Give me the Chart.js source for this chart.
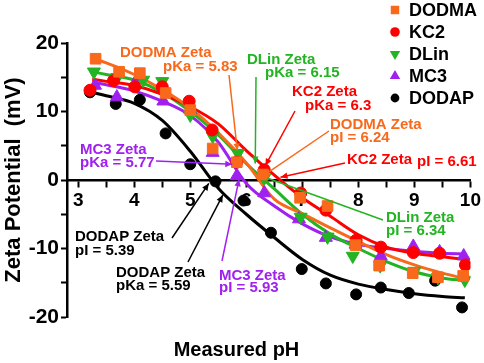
<!DOCTYPE html>
<html><head><meta charset="utf-8">
<script src="https://cdn.jsdelivr.net/npm/chart.js@4/dist/chart.umd.min.js"></script>
<style>html,body{margin:0;padding:0;background:#fff}#wrap{width:484px;height:363px}</style>
</head><body><div id="wrap"><canvas id="c" width="484" height="363"></canvas></div>
<script>
// ---- data ----
const seriesNames = ['DODMA', 'KC2', 'DLin', 'MC3', 'DODAP'];

const dodmaPH   = [3.31, 3.73, 4.10, 4.56, 5.00, 5.40, 5.83, 6.30, 6.96, 7.45, 7.95, 8.37, 8.97, 9.42, 9.87];
const dodmaZeta = [17.7, 15.8, 15.6, 12.7, 10.2, 4.6, 2.6, 0.8, -2.6, -3.8, -9.5, -12.5, -13.6, -14.2, -14.0];

const kc2PH     = [3.21, 3.63, 4.01, 4.50, 4.98, 5.39, 5.83, 6.32, 6.97, 7.42, 7.96, 8.40, 8.98, 9.45, 9.91];
const kc2Zeta   = [13.1, 14.5, 13.6, 13.6, 11.5, 7.3, 2.6, 1.5, -1.9, -4.4, -8.8, -9.8, -10.6, -10.7, -12.4];

const dlinPH    = [3.28, 3.70, 4.16, 4.50, 5.00, 5.40, 5.85, 6.32, 6.97, 7.45, 7.90, 8.39, 9.00, 9.42, 9.90];
const dlinZeta  = [15.8, 15.0, 14.6, 14.4, 9.5, 6.4, 3.9, 0.3, -5.4, -8.3, -11.1, -12.5, -13.3, -14.2, -14.6];

const mc3PH     = [3.30, 3.69, 4.07, 4.52, 5.00, 5.40, 5.83, 6.32, 6.94, 7.42, 7.95, 8.40, 8.98, 9.45, 9.88];
const mc3Zeta   = [13.8, 12.1, 15.0, 11.5, 10.3, 4.0, 0.6, -1.9, -5.7, -8.4, -9.4, -11.1, -9.7, -10.5, -11.1];

const dodapPH   = [3.21, 3.67, 4.10, 4.56, 5.00, 5.45, 5.95, 6.44, 6.99, 7.42, 7.96, 8.40, 8.90, 9.37, 9.85];
const dodapZeta = [12.8, 11.1, 11.7, 6.8, 2.3, -0.2, -3.0, -7.7, -13.0, -15.1, -16.7, -15.7, -16.5, -14.7, -18.6];

// fitted curves, values
const fitPH        = [3.25, 3.5, 4.0, 4.5, 5.0, 5.5, 6.0, 6.5, 7.0, 7.5, 8.0, 8.5, 9.0, 9.5, 9.9];
const dodmaFit     = [17.7, 17.1, 15.4, 13.2, 10.5, 6.9, 2.5, -2.8, -4.9, -7.0, -9.0, -10.9, -12.4, -13.6, -14.4];
const kc2Fit       = [14.7, 14.4, 13.8, 12.5, 10.7, 8.2, 4.3, 0.7, -2.6, -5.3, -8.0, -9.8, -10.7, -11.2, -11.6];
const dlinFit      = [15.8, 15.4, 14.6, 12.8, 10.0, 6.6, 2.4, -1.3, -5.0, -7.9, -10.0, -11.9, -13.4, -14.3, -14.7];
const mc3Fit       = [14.3, 13.9, 13.0, 11.5, 9.4, 5.5, -0.5, -3.8, -6.4, -8.3, -9.4, -10.0, -10.4, -10.7, -10.8];
const dodapFit     = [12.8, 12.3, 11.2, 8.7, 4.2, -1.2, -5.0, -8.4, -11.6, -13.9, -15.2, -16.0, -16.6, -17.0, -17.2];

const xTicks = [3, 3.5, 4, 4.5, 5, 5.5, 6, 6.5, 7, 7.5, 8, 8.5, 9, 9.5, 10];
const yTicks = [-20, -15, -10, -5, 0, 5, 10, 15, 20];

// ---- styles ----
const FONT = "'Liberation Sans', Arial, Helvetica, sans-serif";
const colors = { DODMA: '#F8691C', KC2: '#FF0000', DLin: '#22B422', MC3: '#A020F0', DODAP: '#000000' };
const marker = {
  DODMA: { style: 'rect', r: 7.5, rot: 0 },
  KC2:   { style: 'circle', r: 6, rot: 0 },
  DLin:  { style: 'triangle', r: 7.5, rot: 180 },
  MC3:   { style: 'triangle', r: 7.5, rot: 0 },
  DODAP: { style: 'circle', r: 5.5, rot: 0 }
};
const pointSets = { DODMA: [dodmaPH, dodmaZeta], KC2: [kc2PH, kc2Zeta], DLin: [dlinPH, dlinZeta], MC3: [mc3PH, mc3Zeta], DODAP: [dodapPH, dodapZeta] };
const fitSets = { DODMA: dodmaFit, KC2: kc2Fit, DLin: dlinFit, MC3: mc3Fit, DODAP: dodapFit };

const datasets = [];
seriesNames.forEach(n => {
  datasets.push({
    label: n + ' fit', data: fitPH.map((x, i) => ({ x, y: fitSets[n][i] })),
    showLine: true, borderColor: colors[n], borderWidth: 3, pointRadius: 0,
    cubicInterpolationMode: 'monotone', fill: false, order: 2
  });
});
seriesNames.forEach(n => {
  const [xs, ys] = pointSets[n];
  datasets.push({
    label: n, data: xs.map((x, i) => ({ x, y: ys[i] })),
    showLine: false, pointStyle: marker[n].style, pointRotation: marker[n].rot,
    pointRadius: marker[n].r, pointBackgroundColor: colors[n], pointBorderColor: colors[n],
    pointBorderWidth: 1, order: 1
  });
});

function drawMarker(ctx, style, x, y, r, rot, color) {
  ctx.save();
  ctx.fillStyle = color;
  ctx.translate(x, y);
  ctx.rotate(rot * Math.PI / 180);
  ctx.beginPath();
  if (style === 'rect') { const s = r * Math.SQRT1_2; ctx.rect(-s, -s, 2 * s, 2 * s); }
  else if (style === 'triangle') {
    for (let k = 0; k < 3; k++) {
      const a = -Math.PI / 2 + k * 2 * Math.PI / 3;
      const px = r * Math.cos(a), py = r * Math.sin(a);
      k ? ctx.lineTo(px, py) : ctx.moveTo(px, py);
    }
    ctx.closePath();
  } else { ctx.arc(0, 0, r, 0, Math.PI * 2); }
  ctx.fill();
  ctx.restore();
}

const legendPlugin = {
  id: 'customLegend',
  afterDraw(chart) {
    const ctx = chart.ctx;
    ctx.save();
    ctx.font = 'bold 18px ' + FONT;
    ctx.textBaseline = 'middle';
    ctx.textAlign = 'left';
    seriesNames.forEach((n, i) => {
      const y = 10 + i * 22;
      const m = marker[n];
      drawMarker(ctx, m.style, 395, y, m.r * 0.8, m.rot, colors[n]);
      ctx.fillStyle = '#000';
      ctx.fillText(n, 409, y + 1);
    });
    ctx.restore();
  }
};

// annotation texts: lines positioned in pixels, arrows point at (pH, mV)
const notes = [
  { c: 'DODMA', lines: [['DODMA Zeta', 120, 53], ['pKa = 5.83', 163, 67]], from: [229, 75], to: [5.84, 4.3], head: true },
  { c: 'DLin',  lines: [['DLin Zeta', 247, 60], ['pKa = 6.15', 265, 73]], from: [256, 77], to: [6.16, 2.4], head: true },
  { c: 'KC2',   lines: [['KC2 Zeta', 292, 92], ['pKa = 6.3', 305, 106]], from: [295, 111], to: [6.34, 2.1], head: true },
  { c: 'DODMA', lines: [['DODMA Zeta', 330, 125], ['pI = 6.24', 330, 138]], from: [329, 131], to: [6.39, 1.1], head: false },
  { c: 'KC2',   lines: [['KC2 Zeta', 347, 160], ['pI = 6.61', 417, 162]], from: [345, 163], to: [6.61, 0.4], head: true },
  { c: 'DLin',  lines: [['DLin Zeta', 386, 218], ['pI = 6.34', 386, 231]], from: [383, 220], to: [6.37, 0.3], head: false },
  { c: 'MC3',   lines: [['MC3 Zeta', 80, 150], ['pKa = 5.77', 80, 163]], from: [156, 161], to: [5.75, 2.3], head: true },
  { c: 'DODAP', lines: [['DODAP Zeta', 75, 237], ['pI = 5.39', 75, 251]], from: [172, 238], to: [5.33, -0.5], head: true },
  { c: 'DODAP', lines: [['DODAP Zeta', 116, 273], ['pKa = 5.59', 116, 286]], from: [188, 262], to: [5.58, -2.2], head: true },
  { c: 'MC3',   lines: [['MC3 Zeta', 219, 276], ['pI = 5.93', 219, 288]], from: [222, 261], to: [5.87, 0.1], head: true }
];

const notePlugin = {
  id: 'notes',
  afterDatasetsDraw(chart) {
    const ctx = chart.ctx, xs = chart.scales.x, ys = chart.scales.y;
    ctx.save();
    notes.forEach(nt => {
      const col = colors[nt.c];
      const x0 = nt.from[0], y0 = nt.from[1];
      const x1 = xs.getPixelForValue(nt.to[0]), y1 = ys.getPixelForValue(nt.to[1]);
      ctx.strokeStyle = col; ctx.fillStyle = col; ctx.lineWidth = 1.5;
      ctx.beginPath(); ctx.moveTo(x0, y0); ctx.lineTo(x1, y1); ctx.stroke();
      if (nt.head) {
        const a = Math.atan2(y1 - y0, x1 - x0), L = 7, W = 3.2;
        ctx.beginPath();
        ctx.moveTo(x1, y1);
        ctx.lineTo(x1 - L * Math.cos(a) + W * Math.sin(a), y1 - L * Math.sin(a) - W * Math.cos(a));
        ctx.lineTo(x1 - L * Math.cos(a) - W * Math.sin(a), y1 - L * Math.sin(a) + W * Math.cos(a));
        ctx.closePath(); ctx.fill();
      }
      ctx.font = 'bold 15px ' + FONT;
      ctx.textBaseline = 'middle'; ctx.textAlign = 'left';
      nt.lines.forEach(l => ctx.fillText(l[0], l[1], l[2]));
    });
    ctx.restore();
  }
};

new Chart(document.getElementById('c'), {
  type: 'scatter',
  data: { datasets },
  plugins: [notePlugin, legendPlugin],
  options: {
    responsive: false, animation: false, devicePixelRatio: 1,
    layout: { padding: { top: 43, right: 11, bottom: 1, left: 0 } },
    plugins: {
      legend: { display: false }, tooltip: { enabled: false },
      title: { display: true, position: 'bottom', text: 'Measured pH', color: '#000',
               font: { family: FONT, size: 20, weight: 'bold' }, padding: { top: 21, bottom: 0 } }
    },
    scales: {
      x: {
        type: 'linear', min: 2.8, max: 10, position: { y: 0 },
        afterBuildTicks: s => { s.ticks = xTicks.map(v => ({ value: v })); },
        ticks: { autoSkip: false, maxRotation: 0, color: '#000', padding: 3,
                 font: { family: FONT, size: 19, weight: 'bold' },
                 callback: v => Number.isInteger(v) ? String(v) : '' },
        grid: { drawOnChartArea: false, drawTicks: true, tickLength: 6, tickWidth: 2, tickColor: '#000' },
        border: { display: true, color: '#000', width: 2.5 }
      },
      y: {
        type: 'linear', min: -20, max: 20, position: 'left',
        afterBuildTicks: s => { s.ticks = yTicks.map(v => ({ value: v })); },
        afterFit: s => { s.width = 67; },
        ticks: { autoSkip: false, color: '#000', padding: 2,
                 font: { family: FONT, size: 21, weight: 'bold' },
                 callback: v => (v % 10 === 0) ? String(v) : '' },
        grid: { drawOnChartArea: false, drawTicks: true, tickLength: 6, tickWidth: 2, tickColor: '#000' },
        border: { display: true, color: '#000', width: 2.5 },
        title: { display: true, text: 'Zeta Potential  (mV)', color: '#000',
                 font: { family: FONT, size: 22, weight: 'bold' }, padding: { top: 1, bottom: 0 } }
      }
    }
  }
});
</script></body></html>
